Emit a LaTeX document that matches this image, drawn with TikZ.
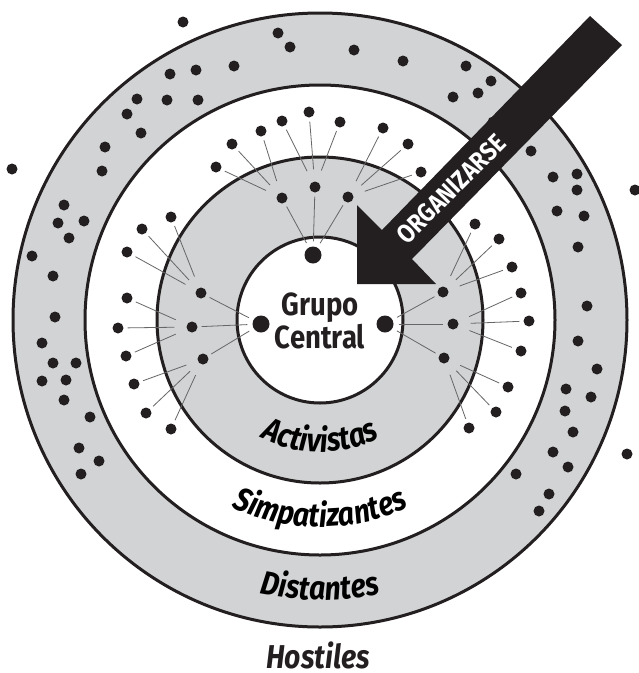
\documentclass[tikz,border=0pt]{standalone}
\usepackage{fontspec}
\setmainfont{Fira Sans}
\newfontfamily\narrowfont{Fira Sans}[FakeStretch=0.86]
\usetikzlibrary{decorations.text}
\definecolor{ringgray}{RGB}{209,211,212}
\definecolor{ink}{RGB}{35,31,32}
\def\ringtext{\narrowfont\bfseries\itshape\fontsize{33}{33}\selectfont}
\def\coretext{\narrowfont\bfseries\fontsize{32}{33}\selectfont}
\def\arrowtext{\narrowfont\bfseries\fontsize{26}{26}\selectfont}
\tikzset{
	dot/.style={circle, fill=ink, inner sep=0pt, minimum size=11pt},
	coredot/.style={dot, minimum size=17pt},
	ring/.style={draw=ink, line width=3pt},
	spoke/.style={draw=black!60, line width=0.8pt, shorten <=5pt, shorten >=4pt},
	fan/.style={draw=black!60, line width=0.8pt, shorten <=12pt, shorten >=4pt},
	ringlabel/.style={decorate, decoration={text along path, text align=center, text={|\ringtext|#1}}}
}

\begin{document}
\begin{tikzpicture}[x=1pt, y=-1pt]
			%%%%% START %%%%%
			\useasboundingbox (0,0) rectangle (639,673);
			\coordinate (o) at (320,320);
			
			% rings, outside in
			\draw[ring, fill=ringgray] (o) circle (307);
			\draw[ring, fill=white] (o) circle (235);
			\draw[ring, fill=ringgray] (o) circle (163);
			\draw[ring, fill=white] (o) circle (83);
			
			% grupo central
			\node[coredot] (c1) at (313,255) {};
			\node[coredot] (c2) at (261,324) {};
			\node[coredot] (c3) at (385,324) {};
			
			% activistas
			\foreach \name/\x/\y in {a1/282/198, a2/315/187, a3/348/197, a4/201/293, a5/192/327,
				a6/203/359, a7/443/292, a8/453/324, a9/444/358}
				\node[dot] (\name) at (\x,\y) {};
			
			% simpatizantes
			\foreach \x/\y [count=\n] in {216/167, 232/144, 261/131, 282/121, 309/112, 340/122,
				383/128, 408/144, 421/172, 171/217, 142/229, 127/252, 127/298, 118/328, 126/356,
				134/384, 146/413, 171/429, 475/224, 499/239, 512/267, 521/293, 529/321, 521/351,
				508/387, 496/412, 469/428}
				\node[dot] (s\n) at (\x,\y) {};
			
			% distantes
			\foreach \x/\y [count=\n] in {278/33, 290/47, 354/50, 403/61, 466/66, 491/81, 478/93,
				453/97, 493/122, 234/66, 170/74, 196/70, 137/99, 167/100, 198/100, 127/114, 141/133,
				105/147, 102/171, 64/205, 58/223, 84/221, 69/238, 32/256, 53/276, 55/317, 42/343,
				53/363, 76/363, 42/381, 66/380, 64/400, 90/417, 79/448, 99/461, 81/474, 531/151,
				553/177, 577/174, 577/190, 557/211, 584/216, 578/247, 587/306, 578/341, 597/369,
				566/389, 591/397, 565/411, 573/432, 553/452, 568/467, 516/474, 549/494, 539/511}
				\node[dot] (d\n) at (\x,\y) {};
			
			% hostiles
			\foreach \x/\y [count=\n] in {183/22, 12/169, 635/190, 627/454}
				\node[dot] (h\n) at (\x,\y) {};
			
			\foreach \c/\a in {c1/a1, c1/a2, c1/a3, c2/a4, c2/a5, c2/a6, c3/a7, c3/a8, c3/a9}
				\draw[spoke] (\c) -- (\a);
			\foreach \i in {1,...,9}{
				\foreach \j in {0,1,2}{
					\pgfmathtruncatemacro\k{3*\i-\j}
					\draw[fan] (a\i) -- (s\k);
				}
			}
			
			% arrow
			\fill[ink] (357,284) -- (357,205) -- (382,230) -- (590,16) -- (622,45) -- (412,259)
				-- (436,284) -- cycle;
			\node[rotate=45, text=white, font=\arrowtext] (organizarse) at (451,189) {ORGANIZARSE};
			
			% labels
			\node[align=center, font=\coretext, text=ink] (grupo) at (320,321) {Grupo\\Central};
			\path[ringlabel=Activistas] (o) ++(130:132) arc (130:50:132);
			\path[ringlabel=Simpatizantes] (o) ++(130:207) arc (130:50:207);
			\path[ringlabel=Distantes] (o) ++(125:280) arc (125:55:280);
			\node[font=\ringtext, text=ink] (hostiles) at (318,655) {Hostiles};
			%%%%% END %%%%%
\end{tikzpicture}
\end{document}
